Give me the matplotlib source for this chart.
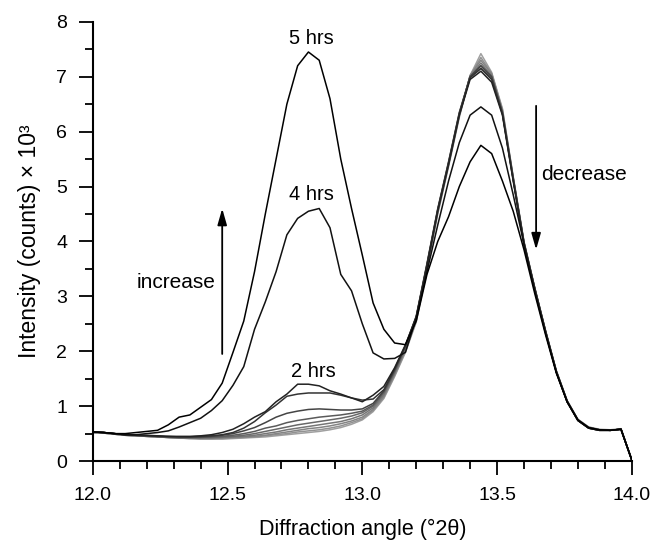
import numpy as np
import matplotlib
matplotlib.use("Agg")
import matplotlib.pyplot as plt

plt.rcParams['font.family'] = ['Liberation Sans', 'DejaVu Sans']

# 2-theta grid, 0.04 deg steps
angle = np.round(np.arange(12.0, 14.0001, 0.04), 2)

# intensity (counts x 10^3), earliest scan first
scan_0 = [0.52, 0.51, 0.49, 0.47, 0.46, 0.45, 0.44, 0.43, 0.42, 0.41, 0.40, 0.40, 0.40, 0.41, 0.42, 0.43, 0.44,
          0.46, 0.48, 0.50, 0.52, 0.54, 0.57, 0.61, 0.67, 0.75, 0.90, 1.14, 1.54, 1.98, 2.53, 3.50, 4.50, 5.36,
          6.26, 7.02, 7.42, 7.08, 6.42, 5.18, 4.00, 3.16, 2.38, 1.65, 1.10, 0.76, 0.62, 0.58, 0.57, 0.59, 0.02]
scan_1 = [0.52, 0.51, 0.49, 0.47, 0.46, 0.45, 0.44, 0.43, 0.42, 0.41, 0.41, 0.41, 0.41, 0.42, 0.43, 0.44, 0.46,
          0.48, 0.50, 0.53, 0.55, 0.57, 0.60, 0.64, 0.70, 0.77, 0.92, 1.16, 1.56, 2.00, 2.55, 3.52, 4.52, 5.38,
          6.28, 7.02, 7.35, 7.06, 6.40, 5.17, 3.99, 3.15, 2.37, 1.64, 1.10, 0.76, 0.62, 0.57, 0.56, 0.58, 0.02]
scan_2 = [0.52, 0.51, 0.49, 0.47, 0.46, 0.45, 0.44, 0.43, 0.42, 0.42, 0.41, 0.41, 0.42, 0.43, 0.44, 0.45, 0.47,
          0.50, 0.53, 0.56, 0.59, 0.61, 0.64, 0.68, 0.73, 0.80, 0.94, 1.18, 1.58, 2.02, 2.56, 3.54, 4.54, 5.40,
          6.30, 7.02, 7.30, 7.05, 6.38, 5.16, 3.98, 3.14, 2.36, 1.63, 1.09, 0.75, 0.61, 0.57, 0.56, 0.58, 0.02]
scan_3 = [0.52, 0.51, 0.49, 0.47, 0.46, 0.45, 0.44, 0.43, 0.42, 0.42, 0.42, 0.42, 0.43, 0.44, 0.45, 0.47, 0.50,
          0.53, 0.57, 0.60, 0.63, 0.66, 0.69, 0.72, 0.77, 0.84, 0.97, 1.21, 1.60, 2.04, 2.58, 3.55, 4.55, 5.40,
          6.30, 7.00, 7.25, 7.02, 6.36, 5.15, 3.98, 3.14, 2.36, 1.63, 1.09, 0.75, 0.61, 0.57, 0.56, 0.58, 0.02]
scan_4 = [0.53, 0.52, 0.50, 0.48, 0.47, 0.46, 0.45, 0.44, 0.43, 0.43, 0.43, 0.43, 0.44, 0.45, 0.47, 0.50, 0.54,
          0.58, 0.62, 0.66, 0.69, 0.72, 0.75, 0.78, 0.82, 0.88, 1.00, 1.24, 1.62, 2.06, 2.60, 3.56, 4.56, 5.42,
          6.32, 7.00, 7.20, 7.00, 6.34, 5.14, 3.97, 3.13, 2.35, 1.62, 1.08, 0.74, 0.60, 0.56, 0.56, 0.58, 0.02]
scan_5 = [0.53, 0.52, 0.50, 0.48, 0.47, 0.46, 0.45, 0.44, 0.43, 0.43, 0.43, 0.44, 0.45, 0.47, 0.50, 0.54, 0.60,
          0.64, 0.70, 0.74, 0.77, 0.80, 0.82, 0.84, 0.87, 0.91, 1.02, 1.26, 1.64, 2.08, 2.62, 3.58, 4.58, 5.44,
          6.34, 7.00, 7.15, 6.98, 6.33, 5.13, 3.97, 3.14, 2.36, 1.63, 1.09, 0.75, 0.61, 0.57, 0.56, 0.58, 0.02]
scan_6 = [0.53, 0.52, 0.50, 0.48, 0.47, 0.46, 0.45, 0.44, 0.44, 0.44, 0.44, 0.45, 0.47, 0.50, 0.55, 0.61, 0.70,
          0.80, 0.87, 0.91, 0.94, 0.95, 0.94, 0.93, 0.93, 0.95, 1.05, 1.28, 1.66, 2.10, 2.64, 3.60, 4.60, 5.45,
          6.35, 7.00, 7.20, 7.00, 6.35, 5.15, 3.98, 3.15, 2.37, 1.64, 1.10, 0.75, 0.61, 0.57, 0.56, 0.58, 0.02]
scan_7 = [0.53, 0.52, 0.50, 0.48, 0.47, 0.46, 0.45, 0.45, 0.44, 0.44, 0.45, 0.46, 0.48, 0.52, 0.60, 0.72, 0.88,
          1.02, 1.18, 1.22, 1.24, 1.24, 1.24, 1.20, 1.15, 1.11, 1.13, 1.30, 1.68, 2.10, 2.62, 3.58, 4.58, 5.42,
          6.32, 6.98, 7.15, 6.95, 6.32, 5.12, 3.96, 3.14, 2.36, 1.63, 1.09, 0.74, 0.60, 0.56, 0.56, 0.58, 0.02]
hrs_2 = [0.53, 0.52, 0.50, 0.48, 0.47, 0.47, 0.46, 0.45, 0.45, 0.45, 0.46, 0.48, 0.52, 0.58, 0.68, 0.80, 0.90,
         1.08, 1.22, 1.40, 1.40, 1.37, 1.28, 1.22, 1.15, 1.08, 1.20, 1.36, 1.70, 2.12, 2.62, 3.55, 4.55, 5.40,
         6.30, 6.95, 7.10, 6.90, 6.30, 5.10, 3.95, 3.12, 2.35, 1.62, 1.08, 0.74, 0.60, 0.56, 0.56, 0.58, 0.02]
hrs_4 = [0.53, 0.52, 0.50, 0.48, 0.48, 0.50, 0.52, 0.55, 0.62, 0.70, 0.78, 0.92, 1.10, 1.38, 1.72, 2.40, 2.90,
         3.45, 4.12, 4.42, 4.55, 4.60, 4.25, 3.40, 3.10, 2.50, 1.97, 1.86, 1.87, 1.98, 2.60, 3.45, 4.30, 5.10,
         5.80, 6.30, 6.45, 6.30, 5.70, 4.85, 3.95, 3.10, 2.33, 1.62, 1.08, 0.74, 0.60, 0.56, 0.56, 0.58, 0.02]
hrs_5 = [0.53, 0.52, 0.50, 0.50, 0.52, 0.54, 0.56, 0.66, 0.80, 0.84, 0.98, 1.12, 1.42, 1.98, 2.55, 3.45, 4.50,
         5.50, 6.50, 7.20, 7.45, 7.30, 6.60, 5.50, 4.60, 3.75, 2.88, 2.40, 2.15, 2.12, 2.55, 3.40, 4.00, 4.45,
         5.00, 5.45, 5.75, 5.60, 5.10, 4.55, 3.85, 3.05, 2.30, 1.60, 1.08, 0.75, 0.61, 0.57, 0.56, 0.58, 0.02]

scans = [scan_0, scan_1, scan_2, scan_3, scan_4, scan_5, scan_6, scan_7, hrs_2, hrs_4, hrs_5]
shades = ['#a0a0a0', '#929292', '#848484', '#767676', '#686868', '#5a5a5a',
          '#444444', '#333333', '#222222', '#111111', '#000000']

fig = plt.figure(figsize=(6.54, 5.45), dpi=100)
ax = fig.add_axes([0.142, 0.154, 0.824, 0.806])

for y, c in zip(scans, shades):
    ax.plot(angle, y, color=c, lw=1.1)

ax.set_xlim(12.0, 14.0)
ax.set_ylim(0, 8)
ax.set_xticks([12.0, 12.5, 13.0, 13.5, 14.0])
ax.set_xticklabels(['12.0', '12.5', '13.0', '13.5', '14.0'])
ax.set_xticks(np.arange(12.0, 14.01, 0.1), minor=True)
ax.set_yticks(range(0, 9))
ax.set_yticks(np.arange(0, 8.01, 0.5), minor=True)

for s in ['top', 'right']:
    ax.spines[s].set_visible(False)
for s in ['left', 'bottom']:
    ax.spines[s].set_linewidth(1.5)
ax.tick_params(which='major', direction='out', length=10, width=1.3, labelsize=14)
ax.tick_params(which='minor', direction='out', length=5.5, width=1.3)
ax.tick_params(axis='x', which='major', pad=8.5)
ax.tick_params(axis='y', which='major', pad=8.5)

ax.set_xlabel('Diffraction angle (°2θ)', fontsize=15.5, labelpad=11)
ax.set_ylabel('Intensity (counts) × 10³', fontsize=16.5, labelpad=11)

ax.text(12.81, 7.52, '5 hrs', fontsize=14.5, ha='center', va='bottom')
ax.text(12.81, 4.68, '4 hrs', fontsize=14.5, ha='center', va='bottom')
ax.text(12.82, 1.46, '2 hrs', fontsize=14.5, ha='center', va='bottom')
ax.text(12.31, 3.25, 'increase', fontsize=15, ha='center', va='center')
ax.text(13.665, 5.22, 'decrease', fontsize=15, ha='left', va='center')

ax.annotate('', xy=(12.48, 4.65), xytext=(12.48, 1.9),
            arrowprops=dict(arrowstyle='-|>,head_length=0.7,head_width=0.2', color='black', lw=1.3,
                            mutation_scale=14))
ax.annotate('', xy=(13.645, 3.8), xytext=(13.645, 6.52),
            arrowprops=dict(arrowstyle='-|>,head_length=0.7,head_width=0.2', color='black', lw=1.3,
                            mutation_scale=14))

fig.savefig('out.png', dpi=100)
